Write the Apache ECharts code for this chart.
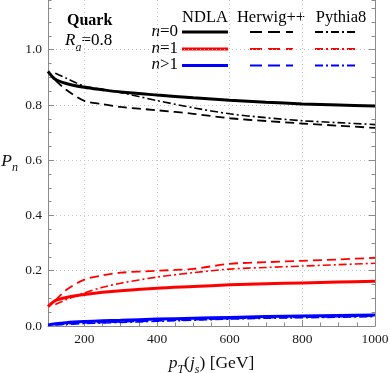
<!DOCTYPE html>
<html>
<head>
<meta charset="utf-8">
<script src="https://cdn.jsdelivr.net/npm/echarts@6/dist/echarts.min.js"></script>
<style>
  html, body { margin: 0; padding: 0; background: #fff; }
  #chart { width: 390px; height: 373px; }
</style>
</head>
<body>
<div id="chart"></div>
<script>
// p_T grid (GeV)
const ptNdla = [100, 120, 150, 200, 250, 300, 400, 500, 600, 700, 800, 900, 1000]
const ptMc = [120, 150, 200, 250, 300, 400, 500, 600, 700, 800, 900, 1000]

// NDLA
const ndlaN0 = [0.922, 0.893, 0.878, 0.864, 0.855, 0.847, 0.836, 0.826, 0.817, 0.810, 0.804, 0.800, 0.796]
const ndlaN1 = [0.070, 0.092, 0.103, 0.114, 0.122, 0.128, 0.137, 0.143, 0.149, 0.153, 0.156, 0.159, 0.162]
const ndlaN2 = [0.004, 0.008, 0.012, 0.016, 0.019, 0.021, 0.025, 0.028, 0.031, 0.034, 0.036, 0.038, 0.040]
// Herwig++
const herwigN0 = [0.890, 0.855, 0.815, 0.803, 0.793, 0.781, 0.768, 0.752, 0.742, 0.733, 0.725, 0.717]
const herwigN1 = [0.092, 0.130, 0.168, 0.183, 0.193, 0.200, 0.207, 0.225, 0.231, 0.236, 0.241, 0.247]
const herwigN2 = [0.006, 0.008, 0.011, 0.013, 0.015, 0.019, 0.023, 0.027, 0.030, 0.032, 0.034, 0.037]
// Pythia8
const pythiaN0 = [0.915, 0.897, 0.868, 0.857, 0.845, 0.816, 0.790, 0.768, 0.754, 0.743, 0.736, 0.729]
const pythiaN1 = [0.078, 0.095, 0.120, 0.140, 0.155, 0.177, 0.193, 0.206, 0.212, 0.217, 0.222, 0.227]
const pythiaN2 = [0.004, 0.006, 0.009, 0.011, 0.013, 0.017, 0.021, 0.025, 0.028, 0.030, 0.032, 0.034]

const xTicks = [200, 400, 600, 800, 1000]
const yTicks = [0, 0.2, 0.4, 0.6, 0.8, 1.0]

const font = '"Liberation Serif", serif'
const axisGray = '#8a8a8a'
const gridGray = '#c4c4c4'
const dashHerwig = [9, 5]
const dashPythia = [8, 3, 2, 3]

const zip = (xs, ys) => xs.map((x, i) => [x, ys[i]])

function line(name, xs, ys, color, type, width) {
  return {
    name,
    type: 'line',
    data: zip(xs, ys),
    showSymbol: false,
    smooth: 0.3,
    xAxisIndex: 0,
    yAxisIndex: 0,
    lineStyle: { color, width, type },
    silent: true,
    animation: false
  }
}

const chart = echarts.init(document.getElementById('chart'))

const richMath = {
  i: { fontFamily: font, fontStyle: 'italic', fontSize: 17.5, color: '#111', verticalAlign: 'bottom', padding: [0, 0, 4, 0] },
  s: { fontFamily: font, fontStyle: 'italic', fontSize: 12, color: '#111', verticalAlign: 'bottom' },
  n: { fontFamily: font, fontSize: 17.5, color: '#111', verticalAlign: 'bottom', padding: [0, 0, 4, 0] }
}

function minorAxis(pos, extra) {
  return Object.assign({
    type: 'value',
    position: pos,
    axisLine: { show: false },
    axisTick: { inside: true, length: 3.5, lineStyle: { color: axisGray } },
    axisLabel: { show: false },
    splitLine: { show: false }
  }, extra)
}

chart.setOption({
  animation: false,
  textStyle: { fontFamily: font },
  grid: { left: 48, right: 15, top: 0, bottom: 47, containLabel: false, outerBoundsMode: 'none' },
  xAxis: [
    {
      type: 'value',
      position: 'bottom',
      min: 100,
      max: 1000,
      axisLine: { lineStyle: { color: axisGray } },
      axisTick: { inside: true, length: 6, customValues: xTicks, lineStyle: { color: axisGray } },
      axisLabel: { customValues: xTicks, fontFamily: font, fontSize: 13.5, color: '#1a1a1a', margin: 6, formatter: v => String(v) },
      splitLine: { show: true, lineStyle: { color: gridGray, type: [1, 3] } },
      name: '{i|p}{s|T}{n|(}{i|j}{s|s}{n|) [GeV]}',
      nameLocation: 'middle',
      nameGap: 28,
      nameTextStyle: { fontFamily: font, rich: richMath }
    },
    minorAxis('bottom', { min: 100, max: 1000, interval: 50 })
  ],
  yAxis: [
    {
      type: 'value',
      position: 'left',
      min: 0,
      max: 1.18,
      axisLine: { lineStyle: { color: axisGray } },
      axisTick: { inside: true, length: 6, customValues: yTicks, lineStyle: { color: axisGray } },
      axisLabel: { customValues: yTicks, fontFamily: font, fontSize: 13.5, color: '#1a1a1a', margin: 6, formatter: v => v.toFixed(1) },
      splitLine: { show: true, lineStyle: { color: gridGray, type: [1, 3] } },
      name: '{i|P}{s|n}',
      nameLocation: 'middle',
      nameRotate: 0,
      nameGap: 30,
      nameTextStyle: { fontFamily: font, rich: richMath }
    },
    minorAxis('left', { min: 0, max: 1.18, interval: 0.05 }),
    {
      type: 'value',
      position: 'right',
      min: 0,
      max: 1.18,
      axisLine: { show: true, lineStyle: { color: axisGray } },
      axisTick: { inside: true, length: 6, customValues: yTicks, lineStyle: { color: axisGray } },
      axisLabel: { show: false },
      splitLine: { show: false }
    },
    minorAxis('right', { min: 0, max: 1.18, interval: 0.05 })
  ],
  series: [
    line('Herwig++ n=0', ptMc, herwigN0, '#000', dashHerwig, 1.8),
    line('Pythia8 n=0', ptMc, pythiaN0, '#000', dashPythia, 1.6),
    line('NDLA n=0', ptNdla, ndlaN0, '#000', 'solid', 3),
    line('Herwig++ n=1', ptMc, herwigN1, '#ff0000', dashHerwig, 1.8),
    line('Pythia8 n=1', ptMc, pythiaN1, '#ff0000', dashPythia, 1.6),
    line('NDLA n=1', ptNdla, ndlaN1, '#ff0000', 'solid', 3),
    line('Herwig++ n>1', ptMc, herwigN2, '#0000ff', dashHerwig, 1.8),
    line('Pythia8 n>1', ptMc, pythiaN2, '#0000ff', dashPythia, 1.6),
    line('NDLA n>1', ptNdla, ndlaN2, '#0000ff', 'solid', 3)
  ],
  graphic: [
    { type: 'text', x: 67, y: 21, style: { text: 'Quark', font: 'bold 16px "Liberation Serif"', fill: '#000', verticalAlign: 'middle' } },
    { type: 'text', x: 65, y: 43, style: {
      text: '{i|R}{s|a}{n|=0.8}', verticalAlign: 'middle',
      rich: {
        i: { fontFamily: font, fontStyle: 'italic', fontSize: 17, fill: '#000', verticalAlign: 'bottom', padding: [0, 0, 4, 0] },
        s: { fontFamily: font, fontStyle: 'italic', fontSize: 12, fill: '#000', verticalAlign: 'bottom' },
        n: { fontFamily: font, fontSize: 17, fill: '#000', verticalAlign: 'bottom', padding: [0, 0, 4, 0] }
      }
    } },
    { type: 'text', x: 205, y: 18, style: { text: 'NDLA', font: '16.5px "Liberation Serif"', fill: '#000', align: 'center', verticalAlign: 'middle' } },
    { type: 'text', x: 271, y: 18, style: { text: 'Herwig++', font: '16.5px "Liberation Serif"', fill: '#000', align: 'center', verticalAlign: 'middle' } },
    { type: 'text', x: 341, y: 18, style: { text: 'Pythia8', font: '16.5px "Liberation Serif"', fill: '#000', align: 'center', verticalAlign: 'middle' } },
    ...[['=0', 32], ['=1', 49], ['>1', 65]].map(([t, y]) => ({
      type: 'text', x: 178, y, style: {
        text: '{i|n}{n|' + t + '}', align: 'right', verticalAlign: 'middle',
        rich: {
          i: { fontFamily: font, fontStyle: 'italic', fontSize: 17, fill: '#000' },
          n: { fontFamily: font, fontSize: 17, fill: '#000' }
        }
      }
    })),
    ...[['#000', 32], ['#ff0000', 49], ['#0000ff', 65.5]].flatMap(([c, y]) => [
      { type: 'line', shape: { x1: 182, y1: y, x2: 228, y2: y }, style: { stroke: c, lineWidth: 3 } },
      { type: 'line', shape: { x1: 250, y1: y, x2: 293, y2: y }, style: { stroke: c, lineWidth: 2, lineDash: [12, 6] } },
      { type: 'line', shape: { x1: 315, y1: y, x2: 358, y2: y }, style: { stroke: c, lineWidth: 1.8, lineDash: [8, 3, 2, 3] } }
    ])
  ]
})
</script>
</body>
</html>
